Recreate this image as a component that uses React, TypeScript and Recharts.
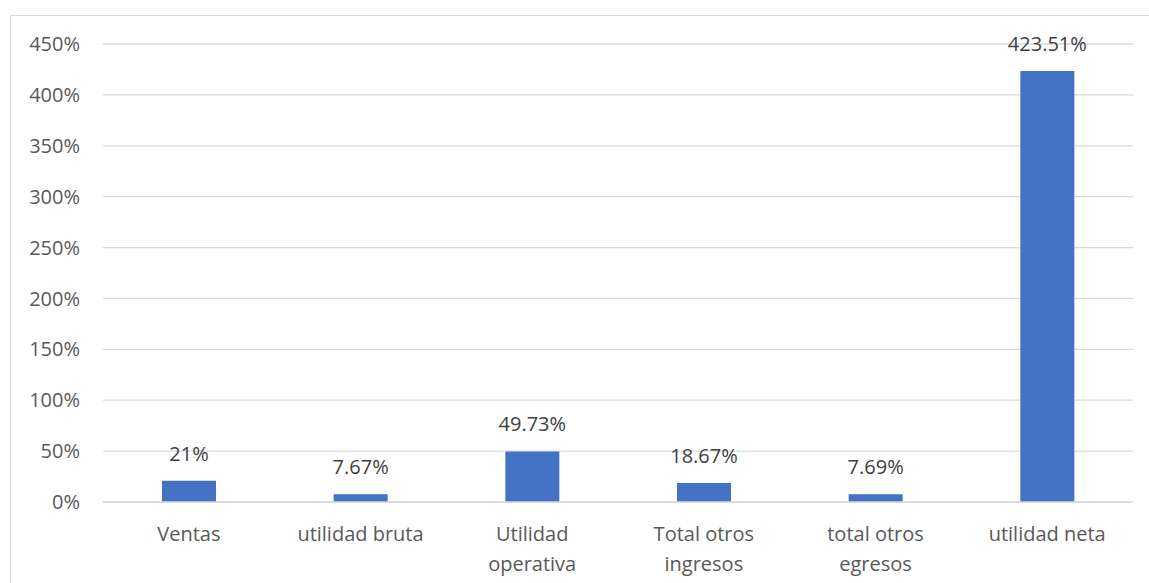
import React from 'react';
import { BarChart, Bar, XAxis, YAxis, CartesianGrid, LabelList } from 'recharts';

const categories = ['Ventas', 'utilidad bruta', 'Utilidad operativa', 'Total otros ingresos', 'total otros egresos', 'utilidad neta'];
const categoryLines = [['Ventas'], ['utilidad bruta'], ['Utilidad', 'operativa'], ['Total otros', 'ingresos'], ['total otros', 'egresos'], ['utilidad neta']];
const values = [21, 7.67, 49.73, 18.67, 7.69, 423.51];
const yTicks = [0, 50, 100, 150, 200, 250, 300, 350, 400, 450];

const data = categories.map((name, i) => ({ name, value: values[i] }));

const FONT = '"Open Sans", "Noto Sans", sans-serif';

const CategoryTick = (props: any) => {
  const { x, y, index } = props;
  const lines = categoryLines[index] || [];
  return (
    <g transform={`translate(${x},${y})`}>
      {lines.map((l, i) => (
        <text key={i} x={0} y={37 + i * 30} textAnchor="middle" fill="#595959" fontSize={20} fontFamily={FONT}>
          {l}
        </text>
      ))}
    </g>
  );
};

export default function App() {
  return (
    <div style={{ position: 'absolute', left: 0, top: 0, width: 1149, height: 583, overflow: 'hidden', background: '#fff' }}>
      <div style={{ position: 'absolute', left: 10, top: 15, width: 1200, height: 700, border: '1px solid #d9d9d9' }} />
      <div style={{ position: 'absolute', left: 0, top: 0 }}>
        <BarChart width={1149} height={583} data={data} margin={{ top: 44, right: 16, bottom: 0, left: 0 }} barSize={54}>
          <CartesianGrid vertical={false} stroke="#d9d9d9" strokeWidth={1.3} />
          <XAxis
            dataKey="name"
            interval={0}
            height={81}
            tickLine={false}
            tickSize={0}
            axisLine={{ stroke: '#d9d9d9', strokeWidth: 1.3 }}
            tick={<CategoryTick />}
          />
          <YAxis
            width={103}
            domain={[0, 450]}
            ticks={yTicks}
            interval={0}
            axisLine={false}
            tickLine={false}
            tickSize={0}
            tickMargin={23}
            tickFormatter={(v) => `${v}%`}
            tick={{ fill: '#595959', fontSize: 20, fontFamily: FONT }}
          />
          <Bar dataKey="value" fill="#4472C4" isAnimationActive={false}>
            <LabelList
              dataKey="value"
              position="top"
              offset={20}
              formatter={(v: any) => `${v}%`}
              style={{ fill: '#404040', fontSize: 20, fontFamily: FONT }}
            />
          </Bar>
        </BarChart>
      </div>
    </div>
  );
}
